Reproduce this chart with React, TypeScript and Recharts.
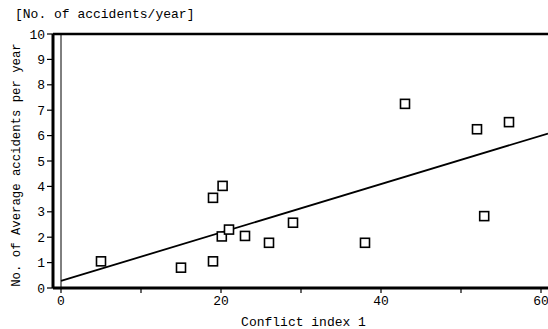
import React from 'react';
import { ComposedChart, XAxis, YAxis, Scatter, Line, ReferenceLine, Label } from 'recharts';

const conflictIndex = [5, 15, 19, 19, 20.2, 20.1, 21, 23, 26, 29, 38, 43, 52, 52.9, 56];
const avgAccidents = [1.05, 0.8, 1.05, 3.55, 4.02, 2.03, 2.3, 2.05, 1.78, 2.57, 1.78, 7.25, 6.25, 2.83, 6.53];
const fitX = [0, 60.875];
const fitY = [0.28, 6.08];
const xTicks = [0, 10, 20, 30, 40, 50, 60];
const xLabelTicks = [0, 20, 40, 60];
const yTicks = [0, 1, 2, 3, 4, 5, 6, 7, 8, 9, 10];

const points = conflictIndex.map((x, i) => ({ x, y: avgAccidents[i] }));
const fitLine = fitX.map((x, i) => ({ x, y: fitY[i] }));

const FONT = "'Liberation Mono', 'DejaVu Sans Mono', monospace";

const Square = (props: any) => {
  const { cx, cy } = props;
  if (cx == null || cy == null) return null;
  return (
    <rect x={cx - 4.5} y={cy - 4.5} width={9} height={9} fill="#fff" stroke="#000" strokeWidth={1.6} />
  );
};

export default function App() {
  return (
    <div style={{ position: 'absolute', left: 0, top: 0, width: 548, height: 329, background: '#fff' }}>
      <ComposedChart width={548} height={329} margin={{ top: 34, right: 0, bottom: 0, left: 0 }}>
        <XAxis
          type="number"
          dataKey="x"
          domain={[-1, 60.875]}
          ticks={xTicks}
          allowDataOverflow
          height={41}
          tickSize={5}
          tickMargin={3}
          tickFormatter={(v: number) => (xLabelTicks.includes(v) ? String(v) : '')}
          axisLine={{ stroke: '#000', strokeWidth: 3 }}
          tickLine={{ stroke: '#000', strokeWidth: 1.2 }}
          tick={{ fill: '#000', fontSize: 13, fontFamily: FONT }}
        >
          <Label
            content={(p: any) => (
              <text x={p.viewBox.x + p.viewBox.width / 2 + 3} y={326} textAnchor="middle" fill="#000" fontSize={13} fontFamily={FONT}>
                Conflict index 1
              </text>
            )}
          />
        </XAxis>
        <YAxis
          type="number"
          dataKey="y"
          domain={[0, 10]}
          ticks={yTicks}
          allowDataOverflow
          width={53}
          tickSize={6}
          tickMargin={2}
          axisLine={{ stroke: '#000', strokeWidth: 3 }}
          tickLine={{ stroke: '#000', strokeWidth: 1.2 }}
          tick={{ fill: '#000', fontSize: 13, fontFamily: FONT }}
        >
          <Label
            content={() => (
              <text x={17} y={165} textAnchor="middle" dominantBaseline="central" transform="rotate(-90 17 165)" fill="#000" fontSize={12.3} fontFamily={FONT}>
                No. of Average accidents per year
              </text>
            )}
          />
        </YAxis>
        <ReferenceLine y={10} stroke="#000" strokeWidth={2.5} />
        <ReferenceLine x={0} stroke="#000" strokeWidth={1} />
        <Line
          data={fitLine}
          dataKey="y"
          type="linear"
          stroke="#000"
          strokeWidth={1.8}
          dot={false}
          activeDot={false}
          isAnimationActive={false}
        />
        <Scatter data={points} dataKey="y" shape={Square} isAnimationActive={false} />
      </ComposedChart>
      <div
        style={{
          position: 'absolute',
          left: 15,
          top: 7,
          fontFamily: FONT,
          fontSize: 13,
          color: '#000',
          whiteSpace: 'pre',
          lineHeight: '16px',
        }}
      >
        [No. of accidents/year]
      </div>
    </div>
  );
}
